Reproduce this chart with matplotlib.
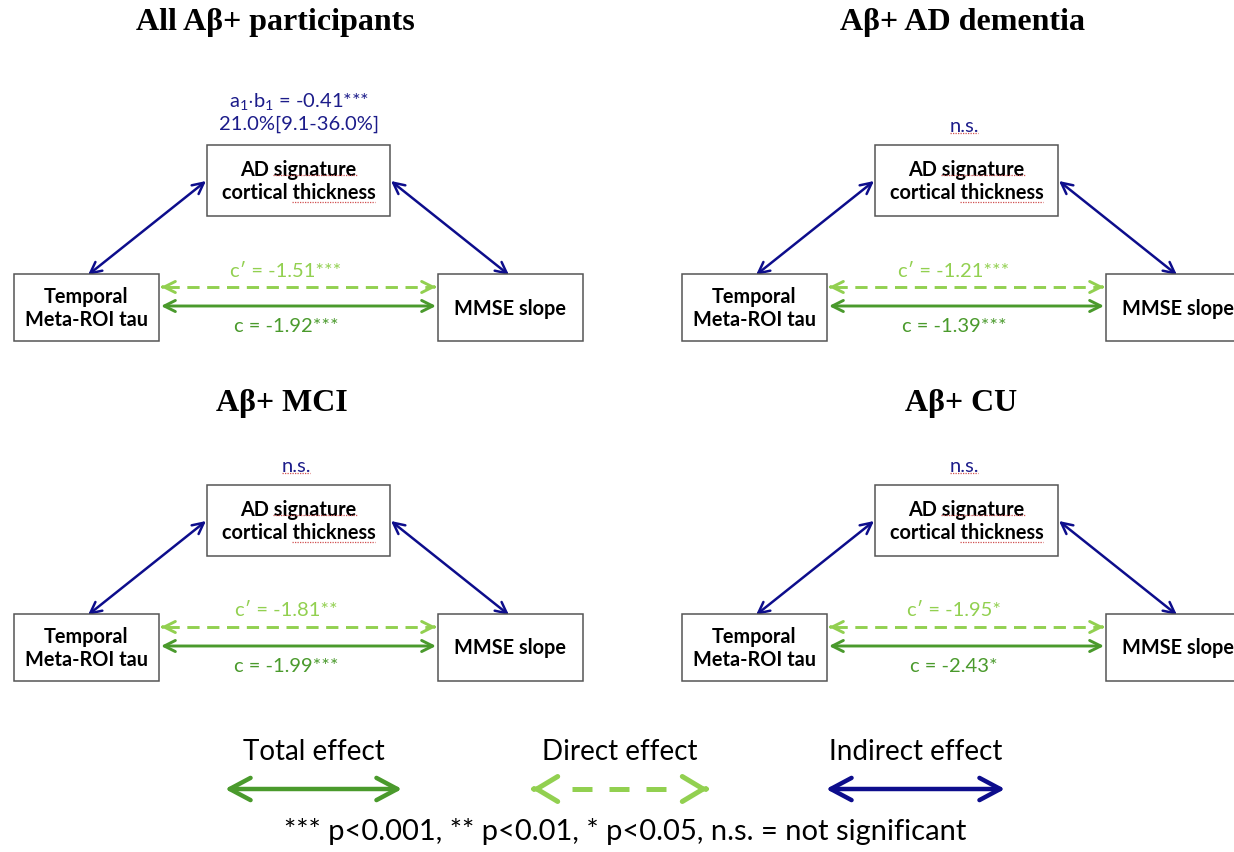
#
# Mediation diagrams: tau -> cortical thickness -> MMSE slope, per Abeta+ group
#

import matplotlib
matplotlib.use("Agg")
import matplotlib.pyplot as plt
from matplotlib.patches import Rectangle, FancyArrowPatch, ArrowStyle

plt.rcParams['mathtext.fontset'] = 'custom'
plt.rcParams['mathtext.rm'] = 'Lato'
plt.rcParams['mathtext.it'] = 'Lato:italic'
plt.rcParams['mathtext.bf'] = 'Lato:bold'

# Data
groups = ['All A\u03b2+ participants', 'A\u03b2+ AD dementia', 'A\u03b2+ MCI', 'A\u03b2+ CU']
indirect_labels = [r'a$_\mathregular{1}$$\cdot$b$_\mathregular{1}$ = -0.41***' + '\n21.0%[9.1-36.0%]',
                   'n.s.', 'n.s.', 'n.s.']
direct_labels = ['c\u2032 = -1.51***', 'c\u2032 = -1.21***', 'c\u2032 = -1.81**', 'c\u2032 = -1.95*']
total_labels = ['c = -1.92***', 'c = -1.39***', 'c = -1.99***', 'c = -2.43*']
node_labels = ['AD signature\ncortical thickness', 'Temporal\nMeta-ROI tau', 'MMSE slope']
legend_labels = ['Total effect', 'Direct effect', 'Indirect effect']
footnote = '*** p<0.001, ** p<0.01, * p<0.05, n.s. = not significant'

# Colours
navy = '#0D0D8C'
navy_text = '#1C1C8A'
light_green = '#92D050'
green = '#4A9A2C'
box_edge = '#555555'
squiggle = '#D05050'

# Layout (pixel coordinates of the canvas)
panel_offsets = [(0, 0), (668, 0), (0, 340), (668, 340)]
title_pos = [(275, 22), (294, 22), (282, 64), (293, 64)]
ad_box = (207, 146, 183, 71)
tau_box = (14, 275, 145, 67)
mmse_box = (438, 275, 145, 67)

body_font = 'Lato'
title_font = 'Liberation Serif'

fig = plt.figure(figsize=(12.34, 8.53), dpi=100)
ax = fig.add_axes([0, 0, 1, 1])
ax.set_xlim(0, 1234)
ax.set_ylim(853, 0)
ax.axis('off')


def arrow(x0, y0, x1, y1, color, lw, hl, hw, style='<->', ls='-'):
    a = FancyArrowPatch((x0, y0), (x1, y1),
                        arrowstyle=ArrowStyle(style, head_length=hl, head_width=hw),
                        mutation_scale=1, color=color, lw=lw, linestyle=ls,
                        shrinkA=0, shrinkB=0, capstyle='round', joinstyle='round')
    ax.add_patch(a)


def dashed_arrow(x0, x1, y, color, lw, hl, hw, dash, gap_in):
    # heads drawn solid, shaft dashed
    arrow(x0 + 2, y, x0, y, color, lw, hl, hw, style='->')
    arrow(x1 - 2, y, x1, y, color, lw, hl, hw, style='->')
    ax.plot([x0 + gap_in, x1 - gap_in], [y, y], color=color, lw=lw,
            dashes=dash, solid_capstyle='butt', dash_capstyle='butt')


def box(rect, dx, dy, label, fs):
    x, y, w, h = rect
    ax.add_patch(Rectangle((x + dx, y + dy), w, h, facecolor='white',
                           edgecolor=box_edge, lw=1.1, zorder=2))
    ax.text(x + dx + w / 2, y + dy + h / 2, label, ha='center', va='center',
            fontsize=fs, fontweight='bold', family=body_font,
            linespacing=1.2, zorder=3)


def spell_mark(x0, x1, y):
    ax.plot([x0, x1], [y, y], color=squiggle, lw=0.9, ls=(0, (1, 1)), zorder=4)


for i, (dx, dy) in enumerate(panel_offsets):
    tx, ty = title_pos[i]
    ax.text(tx + dx, ty + dy, groups[i], ha='center', va='center',
            fontsize=23, fontweight='bold', family=title_font)

    box(ad_box, dx, dy, node_labels[0], 14.3)
    box(tau_box, dx, dy, node_labels[1], 14.3)
    box(mmse_box, dx, dy, node_labels[2], 14.3)
    spell_mark(273 + dx, 357 + dx, 176 + dy)
    spell_mark(292 + dx, 375 + dx, 203 + dy)

    # indirect path arrows
    arrow(88 + dx, 276 + dy, 206 + dx, 182 + dy, navy, 1.8, 8, 4)
    arrow(391 + dx, 182 + dy, 509 + dx, 276 + dy, navy, 1.8, 8, 4)

    # direct (dashed) and total (solid) effects
    dashed_arrow(161 + dx, 436 + dx, 288 + dy, light_green, 2.1, 8, 4,
                 (4.2, 2.6), 6)
    arrow(161 + dx, 307 + dy, 436 + dx, 307 + dy, green, 2.1, 8, 4)

    ax.text(286 + dx, 271 + dy, direct_labels[i], ha='center', va='center',
            fontsize=14.5, color=light_green, family=body_font)
    ax.text(286 + dx, 326 + dy, total_labels[i], ha='center', va='center',
            fontsize=14.5, color=green, family=body_font)

    if '\n' in indirect_labels[i]:
        ax.text(299 + dx, 112 + dy, indirect_labels[i], ha='center', va='center',
                fontsize=14.5, color=navy_text, family=body_font, linespacing=1.25)
    else:
        ax.text(296 + dx, 126 + dy, indirect_labels[i], ha='center', va='center',
                fontsize=14.5, color=navy_text, family=body_font)
        spell_mark(282 + dx, 310 + dx, 134 + dy)

# Legend
legend_x = [(225, 402), (532, 708), (826, 1005)]
legend_colors = [green, light_green, navy]
for i, (x0, x1) in enumerate(legend_x):
    ax.text((x0 + x1) / 2, 752, legend_labels[i], ha='center', va='center',
            fontsize=20, family=body_font)
    if i == 1:
        dashed_arrow(x0, x1, 790, legend_colors[i], 3.6, 15, 9, (4, 3.4), 40)
    else:
        arrow(x0, 790, x1, 790, legend_colors[i], 3.2, 15, 8)

ax.text(625, 832, footnote, ha='center', va='center', fontsize=21, family=body_font)

plt.savefig('out.png', dpi=100)
